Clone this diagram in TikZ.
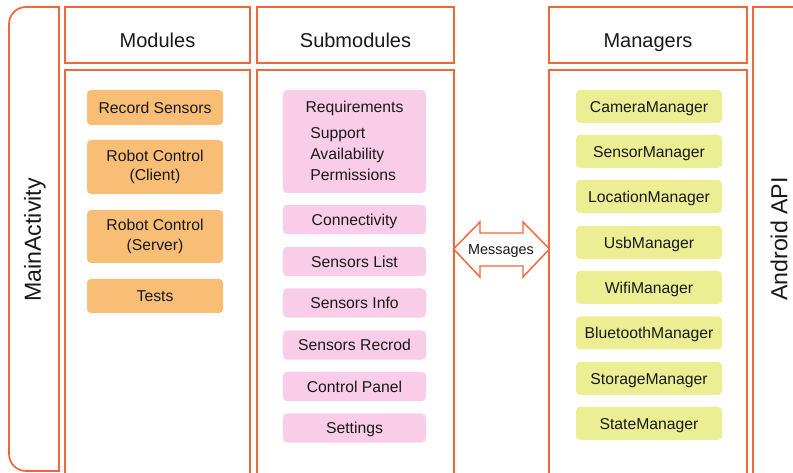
\documentclass[tikz,border=0pt]{standalone}
\usepackage{fontspec}
\setmainfont{Liberation Sans}
\definecolor{edge}{RGB}{240,104,58}
\definecolor{modfill}{RGB}{249,190,118}
\definecolor{subfill}{RGB}{249,205,232}
\definecolor{manfill}{RGB}{236,238,148}
\definecolor{txt}{RGB}{25,25,25}
\begin{document}
\begin{tikzpicture}[x=0.75pt,y=-0.75pt,
  frame/.style={draw=edge,line width=1.3pt},
  header/.style={frame,minimum height=42pt,inner sep=0pt,text height=18.5pt,text depth=0pt,font=\fontsize{15}{17}\selectfont,text=txt},
  item/.style={rounded corners=3pt,inner sep=0pt,text=txt,font=\fontsize{11.8}{14.5}\selectfont,align=center,text height=8.4pt,text depth=0pt},
  twoline/.style={text height=,text depth=},
  modbox/.style={item,fill=modfill,minimum width=102pt},
  subbox/.style={item,fill=subfill,minimum width=107pt,minimum height=22pt},
  manbox/.style={item,fill=manfill,minimum width=109.5pt,minimum height=24.75pt},
  side/.style={font=\fontsize{17.4}{20}\selectfont,text=txt,rotate=90}]
\useasboundingbox (0,0) rectangle (793,473);
% side frames
\draw[frame] (59,7) -- (26,7) arc[start angle=270,end angle=180,radius=17] -- (9,454) arc[start angle=180,end angle=90,radius=17] -- (59,471) -- cycle;
\draw[frame] (753,490) -- (753,7) -- (810,7);
\node[side] (main) at (35,240) {MainActivity};
\node[side] (api) at (779,239) {Android API};
% headers
\node[header,minimum width=138.75pt] (hmod) at (157.5,35) {Modules};
\node[header,minimum width=147.75pt] (hsub) at (355.5,35) {Submodules};
\node[header,minimum width=148.5pt] (hman) at (648,35) {Managers};
% bodies
\draw[frame] (65,485) -- (65,70) -- (250,70) -- (250,485);
\draw[frame] (257,485) -- (257,70) -- (454,70) -- (454,485);
\draw[frame] (549,485) -- (549,70) -- (747,70) -- (747,485);
% modules
\node[modbox,minimum height=26.25pt] (m1) at (155,107.5) {Record Sensors};
\node[modbox,twoline,minimum height=40.5pt] (m2) at (155,167) {Robot Control\\(Client)};
\node[modbox,twoline,minimum height=39.75pt] (m3) at (155,236.5) {Robot Control\\(Server)};
\node[modbox,minimum height=25.5pt] (m4) at (155,296) {Tests};
% submodules
\node[subbox,minimum height=77.25pt] (s1) at (354.5,141.5) {};
\node[item] (s1t) at (354.5,107) {Requirements};
\node[item,anchor=west] (s1a) at (310,132.5) {Support};
\node[item,anchor=west] (s1b) at (310,153.5) {Availability};
\node[item,anchor=west] (s1c) at (310,174.5) {Permissions};
\node[subbox] (s2) at (354.5,219.5) {Connectivity};
\node[subbox] (s3) at (354.5,261.5) {Sensors List};
\node[subbox] (s4) at (354.5,303) {Sensors Info};
\node[subbox] (s5) at (354.5,345) {Sensors Recrod};
\node[subbox] (s6) at (354.5,386.5) {Control Panel};
\node[subbox] (s7) at (354.5,428) {Settings};
% managers
\node[manbox] (g1) at (649,106.5) {CameraManager};
\node[manbox] (g2) at (649,151.5) {SensorManager};
\node[manbox] (g3) at (649,196.5) {LocationManager};
\node[manbox] (g4) at (649,242.5) {UsbManager};
\node[manbox] (g5) at (649,287.5) {WifiManager};
\node[manbox] (g6) at (649,333) {BluetoothManager};
\node[manbox] (g7) at (649,378.5) {StorageManager};
\node[manbox] (g8) at (649,423.5) {StateManager};
% messages arrow
\draw[draw=edge,line width=1.1pt,fill=white,line join=miter]
  (453.5,249) -- (480,222) -- (480,233) -- (523,233) -- (523,222) -- (549.5,249)
  -- (523,277) -- (523,266) -- (480,266) -- (480,277) -- cycle;
\node[font=\fontsize{10.8}{12}\selectfont,text=txt,text height=7.7pt,text depth=0pt] (msg) at (501,249) {Messages};
\end{tikzpicture}
\end{document}
